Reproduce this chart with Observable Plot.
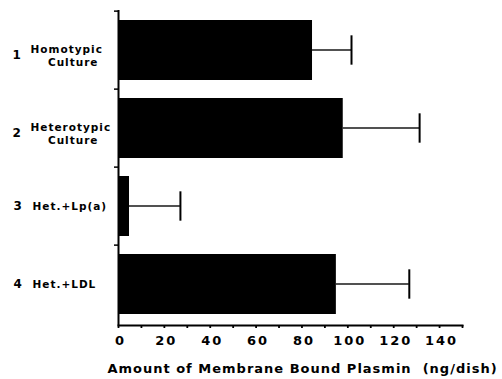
<!DOCTYPE html>
<html><head><meta charset="utf-8">
<script src="https://cdn.jsdelivr.net/npm/d3@7"></script>
<script src="https://cdn.jsdelivr.net/npm/@observablehq/plot@0.6"></script>
<style>
body{margin:0;background:#fff}
.cat text{letter-spacing:1px}
.num text{letter-spacing:0px}
.xl text{letter-spacing:1px}
.xt text{letter-spacing:2px}
</style></head><body><div id="chart"></div>
<script>
const groups = ["1", "2", "3", "4"];
const line1 = ["Homotypic", "Heterotypic", "Het.+Lp(a)", "Het.+LDL"];
const line2 = ["Culture", "Culture", "", ""];
const values = [84.6, 98, 4.8, 95];
const errors = [17, 33.3, 22.2, 31.8];
const xTicks = d3.range(0, 151, 10);
const xTickLabels = [0, 20, 40, 60, 80, 100, 120, 140];
const xLabel = "Amount of Membrane Bound Plasmin\u00a0\u00a0(ng/dish)";

const data = groups.map((g, i) => ({g, l1: line1[i], l2: line2[i], v: values[i], e: errors[i], hi: values[i] + errors[i], two: line2[i] !== ""}));
const W = 502, H = 379, mL = 118, mR = 40, mT = 10, mB = 54;
const pin = 0.23, pout = 0.115;
const step = (H - mT - mB) / groups.length;
const bw = step * (1 - pin);
const font = "DejaVu Sans";
const two = data.filter(d => d.two), one = data.filter(d => !d.two);

const chart = Plot.plot({
  width: W, height: H,
  marginLeft: mL, marginRight: mR, marginTop: mT, marginBottom: mB,
  style: {fontFamily: font, fontSize: "13px", fontWeight: "bold", color: "#000", background: "#fff"},
  x: {domain: [0, 150]},
  y: {type: "band", domain: groups, paddingInner: pin, paddingOuter: pout},
  marks: [
    Plot.barX(data, {x: "v", y: "g", fill: "#000"}),
    Plot.barX(data, {x1: "v", x2: "hi", y: "g", fill: "#000", insetTop: (bw - 2) / 2, insetBottom: (bw - 2) / 2}),
    Plot.tickX(data, {x: "hi", y: "g", stroke: "#000", strokeWidth: 2, insetTop: (bw - 30) / 2, insetBottom: (bw - 30) / 2}),
    Plot.ruleX([0], {stroke: "#000", strokeWidth: 2}),
    Plot.frame({anchor: "bottom", stroke: "#000", strokeWidth: 2}),
    Plot.axisY({tickFormat: () => "", label: null, tickSize: 4, dy: -step / 2, strokeWidth: 1.5}),
    Plot.axisX({ticks: xTicks, tickFormat: () => "", label: null, tickSize: 3, strokeWidth: 1.8}),
    Plot.text(xTickLabels, {x: d => d, text: d => String(d), frameAnchor: "bottom", dx: 2, dy: 19, fontSize: 13, fontWeight: "bold", className: "xt"}),
    Plot.text(two, {y: "g", text: "g", frameAnchor: "left", dx: 12 - mL, dy: 5, textAnchor: "start", fontSize: 12, fontWeight: "bold", className: "num"}),
    Plot.text(one, {y: "g", text: "g", frameAnchor: "left", dx: 13 - mL, dy: 0, textAnchor: "start", fontSize: 12, fontWeight: "bold", className: "num"}),
    Plot.text(two, {y: "g", text: "l1", frameAnchor: "left", dx: 30 - mL, dy: -1, textAnchor: "start", fontSize: 10.5, fontWeight: "bold", className: "cat"}),
    Plot.text(one, {y: "g", text: "l1", frameAnchor: "left", dx: 32 - mL, dy: 0, textAnchor: "start", fontSize: 10.5, fontWeight: "bold", className: "cat"}),
    Plot.text(two, {y: "g", text: "l2", frameAnchor: "left", dx: 98 - mL, dy: 12.5, textAnchor: "end", fontSize: 10.5, fontWeight: "bold", className: "cat"}),
    Plot.text([xLabel], {text: d => d, frameAnchor: "bottom", dx: 12, dy: 47, fontSize: 13, fontWeight: "bold", className: "xl"})
  ]
});
document.getElementById("chart").appendChild(chart);
</script></body></html>
